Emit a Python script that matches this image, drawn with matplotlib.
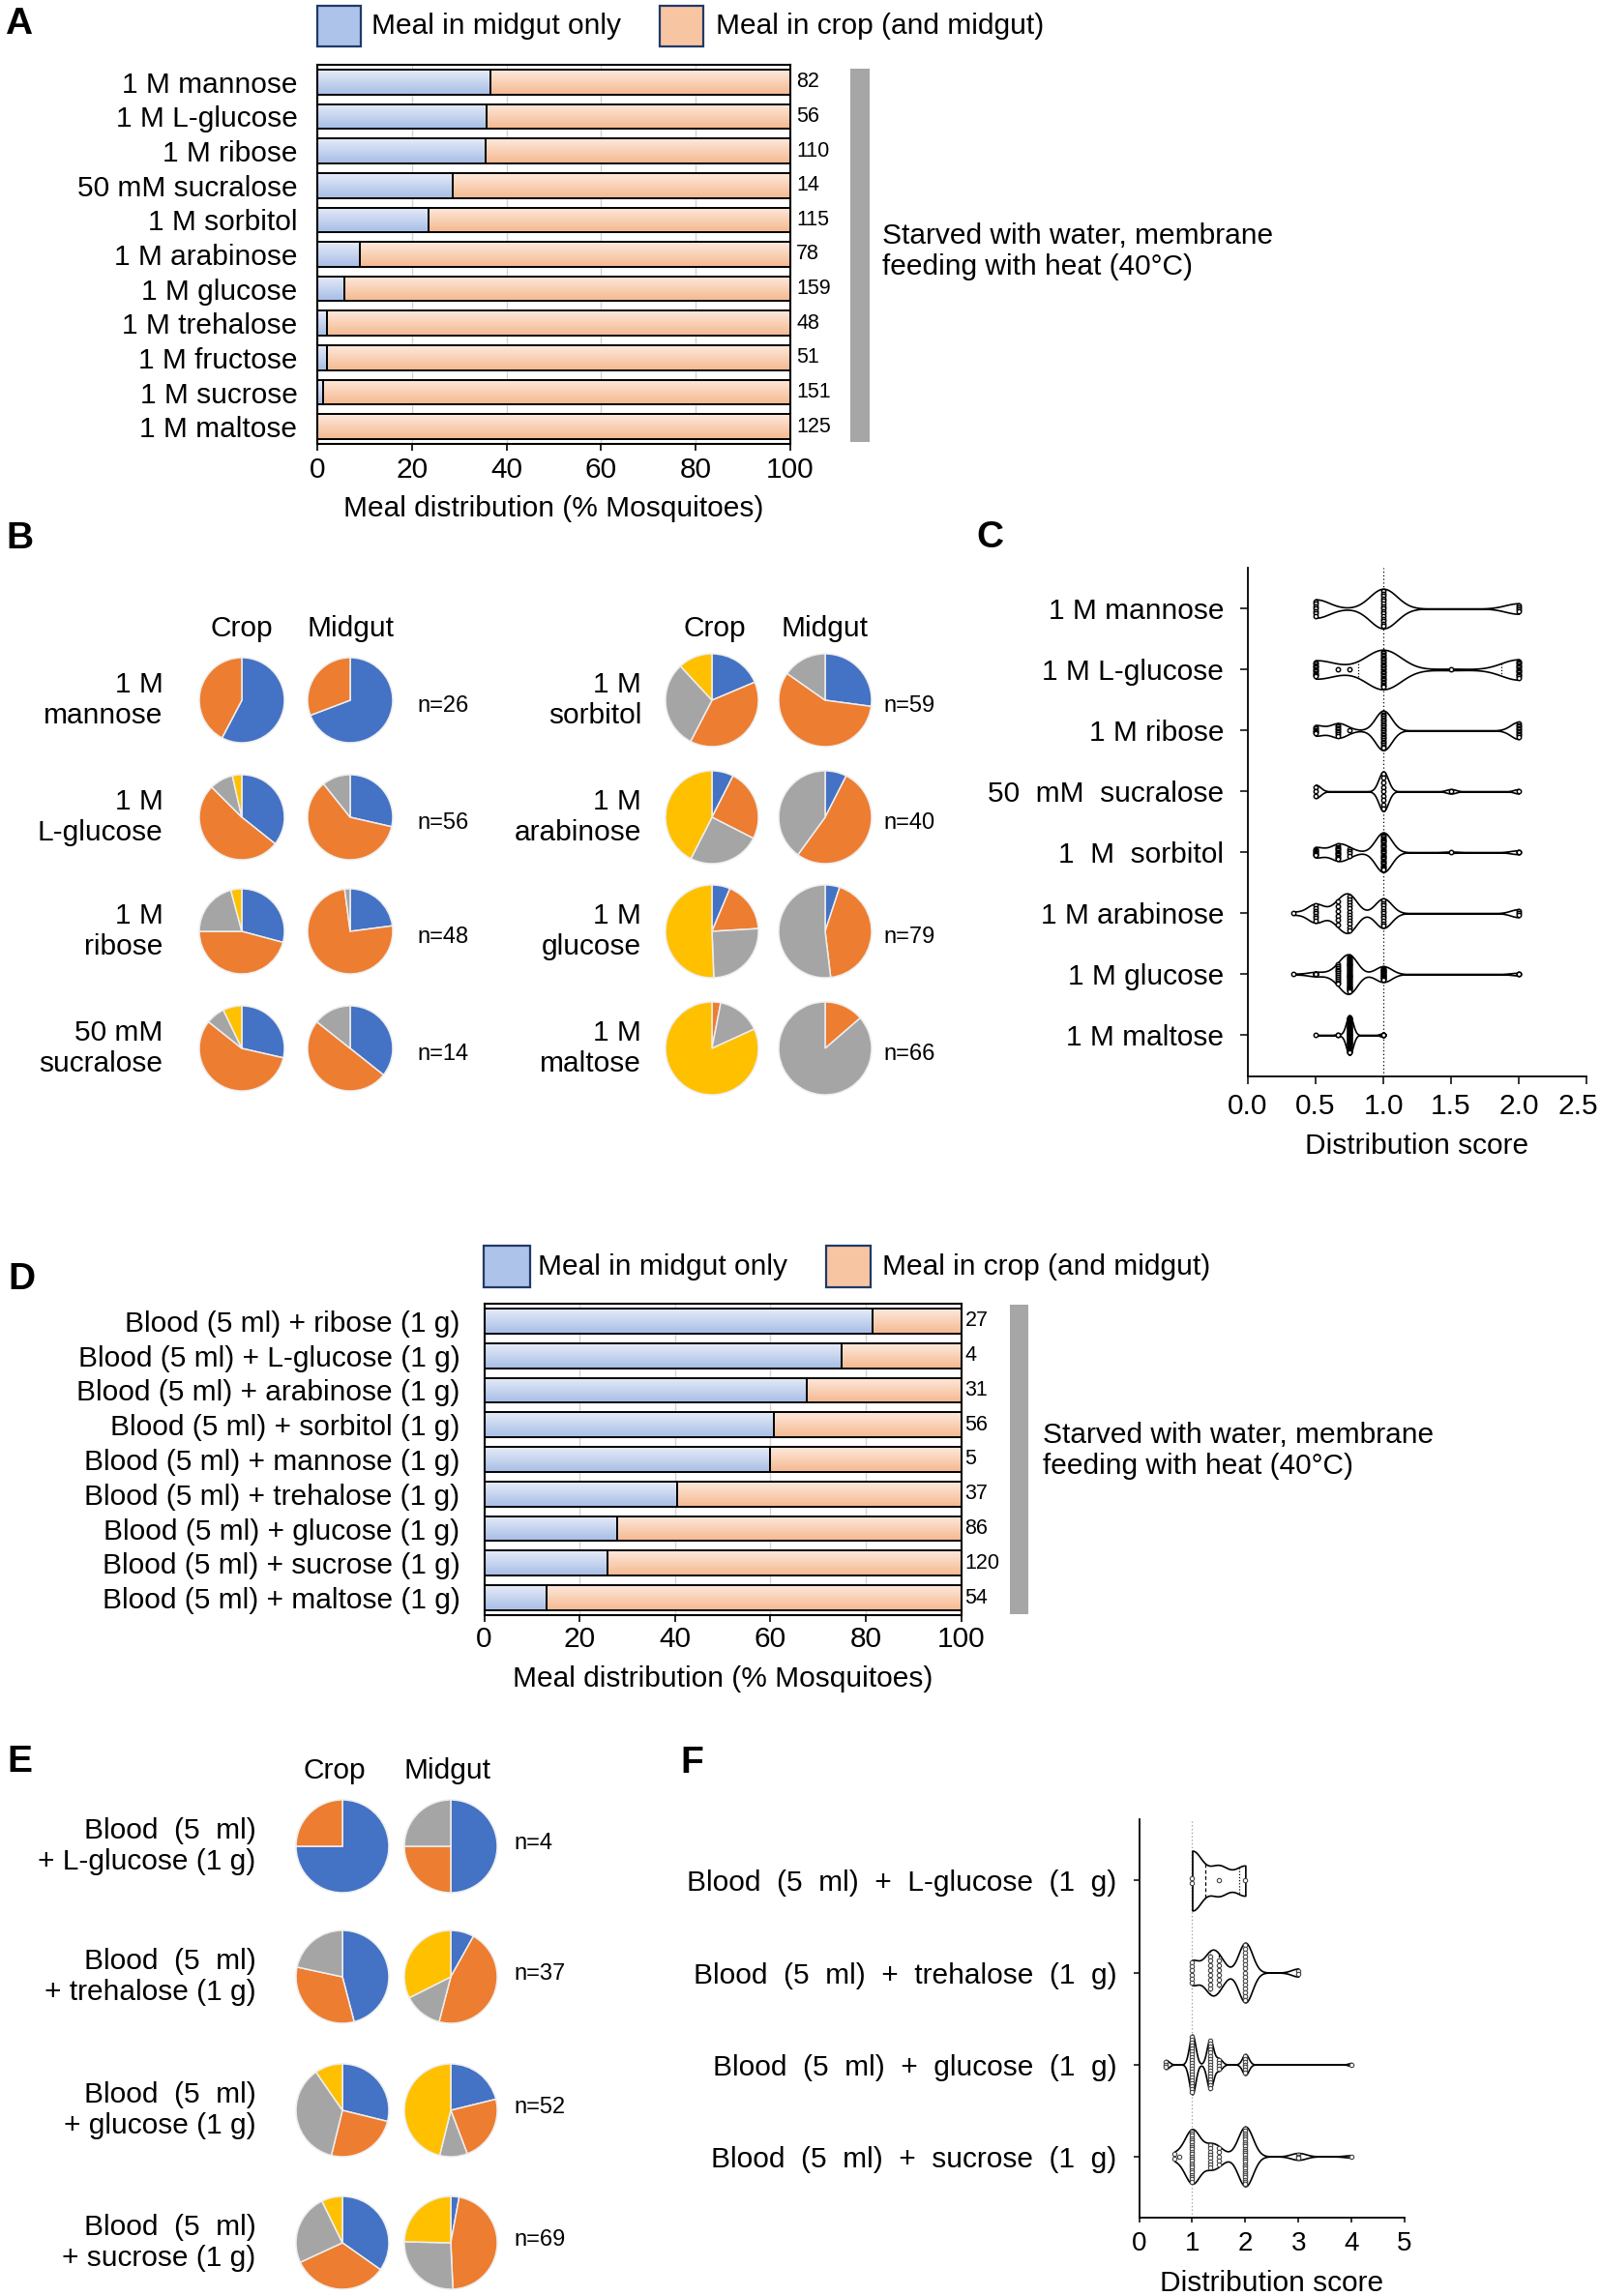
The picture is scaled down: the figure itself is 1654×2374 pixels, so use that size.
import numpy as np
import matplotlib
matplotlib.use('Agg')
import matplotlib.pyplot as plt
from matplotlib.patches import Rectangle
from matplotlib.colors import LinearSegmentedColormap
from matplotlib import cbook

plt.rcParams['font.family'] = ['Liberation Sans', 'DejaVu Sans']

# ---------------- data ----------------
a_labels = ['1 M mannose', '1 M L-glucose', '1 M ribose', '50 mM sucralose', '1 M sorbitol',
            '1 M arabinose', '1 M glucose', '1 M trehalose', '1 M fructose', '1 M sucrose',
            '1 M maltose']
a_midgut_pct = [36.6, 35.7, 35.5, 28.6, 23.5, 9.0, 5.7, 2.1, 2.0, 1.3, 0.0]
a_n = [82, 56, 110, 14, 115, 78, 159, 48, 51, 151, 125]

d_labels = ['Blood (5 ml) + ribose (1 g)', 'Blood (5 ml) + L-glucose (1 g)',
            'Blood (5 ml) + arabinose (1 g)', 'Blood (5 ml) + sorbitol (1 g)',
            'Blood (5 ml) + mannose (1 g)', 'Blood (5 ml) + trehalose (1 g)',
            'Blood (5 ml) + glucose (1 g)', 'Blood (5 ml) + sucrose (1 g)',
            'Blood (5 ml) + maltose (1 g)']
d_midgut_pct = [81.5, 75.0, 67.7, 60.7, 60.0, 40.5, 27.9, 25.8, 13.0]
d_n = [27, 4, 31, 56, 5, 37, 86, 120, 54]

legend_labels = ['Meal in midgut only', 'Meal in crop (and midgut)']
side_note = 'Starved with water, membrane\nfeeding with heat (40\u00b0C)'

# pie counts, slice order: blue, orange, gray, yellow
b_left_labels = ['1 M\nmannose', '1 M\nL-glucose', '1 M\nribose', '50 mM\nsucralose']
b_left_crop = [[15, 11, 0, 0], [20, 29, 5, 2], [14, 22, 10, 2], [4, 8, 1, 1]]
b_left_midgut = [[18, 8, 0, 0], [16, 34, 6, 0], [11, 36, 1, 0], [5, 7, 2, 0]]
b_left_n = [26, 56, 48, 14]
b_right_labels = ['1 M\nsorbitol', '1 M\narabinose', '1 M\nglucose', '1 M\nmaltose']
b_right_crop = [[11, 23, 18, 7], [3, 10, 10, 17], [5, 14, 20, 40], [0, 2, 10, 54]]
b_right_midgut = [[16, 34, 9, 0], [3, 21, 16, 0], [4, 34, 41, 0], [0, 9, 57, 0]]
b_right_n = [59, 40, 79, 66]

e_labels = ['Blood  (5  ml)\n+ L-glucose (1 g)', 'Blood  (5  ml)\n+ trehalose (1 g)',
            'Blood  (5  ml)\n+ glucose (1 g)', 'Blood  (5  ml)\n+ sucrose (1 g)']
e_crop = [[3, 1, 0, 0], [17, 12, 8, 0], [15, 13, 19, 5], [24, 23, 17, 5]]
e_midgut = [[2, 1, 1, 0], [3, 17, 5, 12], [11, 12, 5, 24], [2, 32, 18, 17]]
e_n = [4, 37, 52, 69]

c_labels = ['1 M mannose', '1 M L-glucose', '1 M ribose', '50  mM  sucralose',
            '1  M  sorbitol', '1 M arabinose', '1 M glucose', '1 M maltose']
c_scores = [1/3, 0.5, 2/3, 0.75, 1.0, 1.5, 2.0]
c_counts = [
    [0, 7, 0, 0, 15, 0, 4],
    [0, 12, 1, 1, 27, 1, 14],
    [0, 6, 8, 1, 23, 0, 10],
    [0, 3, 0, 0, 9, 1, 1],
    [0, 8, 12, 4, 31, 1, 3],
    [1, 7, 6, 12, 11, 0, 3],
    [1, 5, 12, 40, 18, 0, 3],
    [0, 1, 2, 58, 5, 0, 0],
]
c_ticks = [0.0, 0.5, 1.0, 1.5, 2.0, 2.5]

f_labels = ['Blood  (5  ml)  +  L-glucose  (1  g)', 'Blood  (5  ml)  +  trehalose  (1  g)',
            'Blood  (5  ml)  +  glucose  (1  g)', 'Blood  (5  ml)  +  sucrose  (1  g)']
f_scores = [0.5, 2/3, 0.75, 1.0, 4/3, 1.5, 2.0, 3.0, 4.0]
f_counts = [
    [0, 0, 0, 2, 0, 1, 1, 0, 0],
    [0, 0, 0, 6, 8, 6, 15, 2, 0],
    [3, 0, 0, 20, 17, 4, 7, 0, 1],
    [0, 2, 1, 23, 8, 5, 26, 3, 1],
]
f_ticks = [0, 1, 2, 3, 4, 5]

# ---------------- style ----------------
W, H = 1654, 2374
DPI = 100
FS = 21.5
PIE_COLORS = ['#4472C4', '#ED7D31', '#A5A5A5', '#FFC000']
BLUE_CM = LinearSegmentedColormap.from_list('b', ['#e6ecf8', '#a7bde6'])
ORANGE_CM = LinearSegmentedColormap.from_list('o', ['#fde9dc', '#f5b990'])
LEG_BLUE, LEG_ORANGE = '#aec3ea', '#f8c5a2'

fig = plt.figure(figsize=(W / DPI, H / DPI), dpi=DPI)


def px(v):
    return v * 72.0 / DPI


def axes_px(left, top, right, bottom):
    return fig.add_axes([left / W, 1 - bottom / H, (right - left) / W, (bottom - top) / H])


def ftext(x, y, s, **kw):
    kw.setdefault('fontsize', FS)
    return fig.text(x / W, 1 - y / H, s, **kw)


def frect(x0, y0, x1, y1, **kw):
    fig.add_artist(Rectangle((x0 / W, 1 - y1 / H), (x1 - x0) / W, (y1 - y0) / H,
                             transform=fig.transFigure, **kw))


# ---------------- stacked bars (A, D) ----------------
def stacked(box, labels, midgut, ns, label_pad_px, xl_center, tick_pad_px, count_off_px,
            gray_bar, note_xy, legend_boxes):
    ax = axes_px(*box)
    y = np.arange(len(labels))
    mid = np.array(midgut)
    crop = 100 - mid
    hb = 0.72
    b1 = ax.barh(y, mid, height=hb, color=LEG_BLUE, linewidth=0, zorder=2)
    b2 = ax.barh(y, crop, left=mid, height=hb, color=LEG_ORANGE, linewidth=0, zorder=2)
    grad = np.linspace(0, 1, 64).reshape(-1, 1)
    for bars, cm in ((b1, BLUE_CM), (b2, ORANGE_CM)):
        for p in bars:
            if p.get_width() <= 0:
                continue
            x0, y0, w, h = p.get_x(), p.get_y(), p.get_width(), p.get_height()
            im = ax.imshow(grad, extent=(x0, x0 + w, y0 + h, y0), cmap=cm, aspect='auto',
                           origin='upper', interpolation='bilinear', zorder=2.5)
            im.set_clip_path(p)
    ax.barh(y, mid, height=hb, facecolor='none', edgecolor='black', linewidth=1.4, zorder=3)
    ax.barh(y, crop, left=mid, height=hb, facecolor='none', edgecolor='black', linewidth=1.4,
            zorder=3)
    ax.set_xlim(0, 100)
    ax.set_ylim(len(labels) - 0.5, -0.5)
    ax.set_aspect('auto')
    ax.set_xticks([0, 20, 40, 60, 80, 100])
    ax.set_yticks(y)
    ax.set_yticklabels(labels, fontsize=FS)
    ax.tick_params(axis='y', length=0, pad=px(label_pad_px))
    ax.tick_params(axis='x', length=px(7), width=1.2, direction='out', pad=px(tick_pad_px),
                   labelsize=FS)
    ax.xaxis.grid(True, color='#d4d4d4', linewidth=1.0)
    ax.set_axisbelow(True)
    for s in ax.spines.values():
        s.set_linewidth(1.5)
    for yi, n in zip(y, ns):
        ax.annotate(str(n), (100, yi), xytext=(px(count_off_px), 0), textcoords='offset points',
                    va='center', ha='left', fontsize=15.5, annotation_clip=False)
    ax.set_xlabel('Meal distribution (% Mosquitoes)', fontsize=FS)
    ax.xaxis.label.set_va('center')
    left, top, right, bottom = box
    ax.xaxis.set_label_coords(0.5, (bottom - xl_center) / (bottom - top))
    frect(*gray_bar, facecolor='#a6a6a6', edgecolor='none')
    ftext(note_xy[0], note_xy[1], side_note, ha='left', va='center', linespacing=1.2)
    (bx0, by0, bx1, by1, tx1), (ox0, oy0, ox1, oy1, tx2) = legend_boxes
    frect(bx0, by0, bx1, by1, facecolor=LEG_BLUE, edgecolor='#1f3a68', linewidth=1.6)
    frect(ox0, oy0, ox1, oy1, facecolor=LEG_ORANGE, edgecolor='#1f3a68', linewidth=1.6)
    ftext(tx1, (by0 + by1) / 2, legend_labels[0], ha='left', va='center')
    ftext(tx2, (oy0 + oy1) / 2, legend_labels[1], ha='left', va='center')
    return ax


stacked((328, 67, 817, 459), a_labels, a_midgut_pct, a_n, 20.5, 526, 6, 6,
        (879, 71, 899, 457), (912, 260),
        ((328, 6.5, 373, 48, 384), (682, 6.5, 727, 48, 740)))
stacked((500.5, 1348, 993.6, 1670), d_labels, d_midgut_pct, d_n, 25, 1736, 4, 4,
        (1044, 1349, 1063, 1669), (1078, 1500),
        ((500, 1288, 548, 1331, 556), (854, 1288, 900, 1331, 912)))


# ---------------- pies (B, E) ----------------
def pie_at(cx, cy, r, counts):
    rr = r * 1.03
    ax = axes_px(cx - rr, cy - rr, cx + rr, cy + rr)
    vals = [c for c in counts if c > 0]
    cols = [col for c, col in zip(counts, PIE_COLORS) if c > 0]
    ax.pie(vals, colors=cols, startangle=90, counterclock=False, radius=1.0,
           wedgeprops=dict(edgecolor='#eeeeee', linewidth=1.1))
    ax.set_xlim(-1.03, 1.03)
    ax.set_ylim(-1.03, 1.03)
    ax.set_aspect('equal')
    ax.axis('off')


def pie_group(labels, crops, mids, ns, label_x, crop_x, mid_x, rows, r, n_x, n_dy,
              header_y, header_xs):
    ftext(header_xs[0], header_y, 'Crop', ha='center', va='center')
    ftext(header_xs[1], header_y, 'Midgut', ha='center', va='center')
    for lab, c, m, n, cy in zip(labels, crops, mids, ns, rows):
        pie_at(crop_x, cy, r, c)
        pie_at(mid_x, cy, r, m)
        ftext(label_x, cy, lab, ha='right', va='center', multialignment='right',
              linespacing=1.2)
        ftext(n_x, cy + n_dy, 'n=%d' % n, ha='left', va='center', fontsize=17)


b_rows = [724, 845, 963, 1084]
pie_group(b_left_labels, b_left_crop, b_left_midgut, b_left_n, 168.6, 250, 362, b_rows, 44,
          431, 6, 650, (250, 363))
pie_group(b_right_labels, b_right_crop, b_right_midgut, b_right_n, 663, 736, 853, b_rows, 48,
          913, 6, 650, (739, 853))
pie_group(e_labels, e_crop, e_midgut, e_n, 264.6, 354, 466, [1909, 2044, 2182, 2319], 48,
          531, -3, 1831, (346, 463))


# ---------------- violins (C, F) ----------------
def kde(h):
    def method(X, coords):
        X = np.asarray(X, float)
        return np.exp(-0.5 * ((coords[:, None] - X[None, :]) / h) ** 2).sum(1)
    return method


def violins(box, labels, scores, counts, bws, ylim, ticks, tick_fmt, tick_fs, ylab_pad_px,
            ytick_len, xtick_len, xtick_pad_px, xl_center, ref_color, dot_px, dot_edge,
            dot_lw, last_label_shift_px=None):
    ax = axes_px(*box)
    left, top, right, bottom = box
    ax.set_ylim(*ylim)
    px_per_row = (bottom - top) / (ylim[0] - ylim[1])
    width = 0.65
    ax.axvline(1.0, color=ref_color, linestyle=(0, (1, 2)), linewidth=0.9, zorder=1)
    d = dot_px / px_per_row
    for i, (cnt, h) in enumerate(zip(counts, bws)):
        data = np.repeat(np.array(scores, float), cnt)
        st = cbook.violin_stats([data], kde(h), points=500)
        try:
            parts = ax.violin(st, positions=[i], orientation='horizontal', widths=width,
                              showextrema=False)
        except TypeError:
            parts = ax.violin(st, positions=[i], vert=False, widths=width, showextrema=False)
        for b in parts['bodies']:
            b.set_facecolor('white')
            b.set_edgecolor('black')
            b.set_linewidth(1.2)
            b.set_alpha(1)
            b.set_zorder(2)
        coords, vals = st[0]['coords'], st[0]['vals']

        def hw(x):
            return 0.5 * width * np.interp(x, coords, vals) / vals.max()

        q1, med, q3 = np.percentile(data, [25, 50, 75], method='weibull')
        for q, ls in ((q1, (0, (1, 1.5))), (med, (0, (3, 2))), (q3, (0, (1, 1.5)))):
            hq = hw(q)
            ax.plot([q, q], [i - hq, i + hq], color='black', linestyle=ls, linewidth=0.9,
                    zorder=2.5)
        xs, ys = [], []
        for v, k in zip(scores, cnt):
            if k == 0:
                continue
            avail = max(2 * hw(v) - d, 0)
            sp = 1.1 * d if k == 1 else min(1.1 * d, avail / (k - 1))
            yy = i + (np.arange(k) - (k - 1) / 2) * sp
            xs.extend([v] * k)
            ys.extend(yy)
        ax.scatter(xs, ys, s=px(dot_px) ** 2, facecolors='white', edgecolors=dot_edge,
                   linewidths=dot_lw, zorder=3)
    ax.set_xlim(ticks[0], ticks[-1])
    ax.set_xticks(ticks)
    labels_txt = [tick_fmt % t for t in ticks]
    if last_label_shift_px is not None:
        last = labels_txt[-1]
        labels_txt[-1] = ''
        ax.annotate(last, (ticks[-1], 0), xycoords=ax.get_xaxis_transform(),
                    xytext=(px(-last_label_shift_px), -px(xtick_len + xtick_pad_px)),
                    textcoords='offset points', ha='center', va='top', fontsize=tick_fs,
                    annotation_clip=False)
    ax.set_xticklabels(labels_txt, fontsize=tick_fs)
    ax.set_yticks(range(len(labels)))
    ax.set_yticklabels(labels, fontsize=FS)
    ax.tick_params(axis='y', length=px(ytick_len), width=1.1, direction='out',
                   pad=px(ylab_pad_px))
    ax.tick_params(axis='x', length=px(xtick_len), width=1.1, direction='out',
                   pad=px(xtick_pad_px))
    for s in ('top', 'right'):
        ax.spines[s].set_visible(False)
    for s in ('left', 'bottom'):
        ax.spines[s].set_linewidth(1.3)
    ax.set_xlabel('Distribution score', fontsize=FS)
    ax.xaxis.label.set_va('center')
    ax.xaxis.set_label_coords(0.5, (bottom - xl_center) / (bottom - top))
    return ax


c_bw = [0.10, 0.13, 0.06, 0.035, 0.06, 0.06, 0.06, 0.025]
violins((1290, 587, 1640, 1113), c_labels, c_scores, c_counts, c_bw, (7.68, -0.67),
        c_ticks, '%.1f', FS, 17, 8, 8, 9, 1185, 'black', 4.4, 'black', 1.05,
        last_label_shift_px=9)
f_bw = [0.18, 0.13, 0.06, 0.14]
violins((1177.6, 1881, 1452, 2293), f_labels, f_scores, f_counts, f_bw, (3.667, -0.668),
        f_ticks, '%d', 20, 17, 6, 5, 9, 2361, '#999999', 4.4, '#444444', 0.8)

# ---------------- panel letters ----------------
for letter, (x, y) in {'A': (19, 25), 'B': (20, 557), 'C': (1023, 556),
                       'D': (22, 1323), 'E': (20, 1822), 'F': (715, 1823)}.items():
    ftext(x, y, letter, ha='center', va='center', fontsize=28, fontweight='bold')

fig.savefig('out.png', dpi=DPI)
